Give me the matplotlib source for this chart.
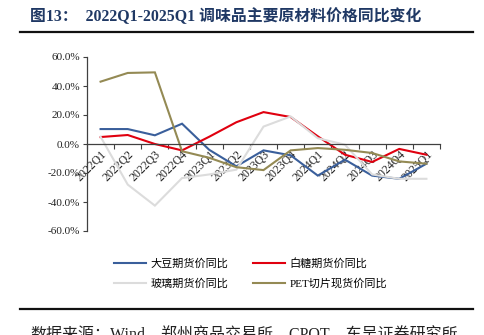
import matplotlib
matplotlib.use("Agg")
import matplotlib.pyplot as plt
from matplotlib.lines import Line2D
from matplotlib.ticker import FuncFormatter, FixedLocator

plt.rcParams['font.family'] = ['Liberation Serif', 'Noto Sans CJK SC', 'DejaVu Sans']

# ---------------------------------------------------------------------------
# Data (% YoY)
# ---------------------------------------------------------------------------
quarters = ["2022Q1", "2022Q2", "2022Q3", "2022Q4",
            "2023Q1", "2023Q2", "2023Q3", "2023Q4",
            "2024Q1", "2024Q2", "2024Q3", "2024Q4", "2025Q1"]
soybean = [10.3, 10.3, 6.0, 14.0, -4.0, -15.4, -4.4, -7.8, -21.8, -10.8, -21.8, -24.0, -13.6]
sugar = [4.8, 6.2, 0.0, -4.4, 5.0, 15.0, 22.0, 18.6, 5.3, -7.4, -12.4, -3.4, -7.4]
glass = [5.0, -28.0, -42.5, -23.5, -21.0, -17.7, 12.0, 19.0, 4.0, -0.5, -21.0, -24.0, -24.0]
pet = [43.0, 49.0, 49.4, -5.0, -9.5, -16.0, -18.0, -4.4, -2.8, -4.0, -6.2, -12.0, -13.6]

series_labels = ["大豆期货价同比", "白糖期货价同比", "玻璃期货价同比", "PET切片现货价同比"]
series_colors = ["#3A5F9B", "#E0000F", "#DCDCDC", "#948A54"]

title = "图13：  2022Q1-2025Q1 调味品主要原材料价格同比变化"
source = "数据来源：Wind，郑州商品交易所，CPOT，东吴证券研究所"

# ---------------------------------------------------------------------------
# Figure
# ---------------------------------------------------------------------------
W, H = 485, 335
fig = plt.figure(figsize=(W / 100, H / 100), dpi=100)
fig.patch.set_facecolor("white")

ax = fig.add_axes([87 / W, 1 - 231 / H, (440 - 87) / W, (231 - 57) / H])

x = list(range(len(quarters)))
handles = []
for vals, lab, col in zip([soybean, sugar, glass, pet], series_labels, series_colors):
    ln, = ax.plot(x, vals, color=col, lw=1.5, label=lab, solid_joinstyle="miter")
    handles.append(ln)

ax.set_xlim(-0.5, len(quarters) - 0.5)
ax.set_ylim(-60, 60)

axis_col = "#404040"
for s in ["top", "right"]:
    ax.spines[s].set_visible(False)
ax.spines["left"].set_color(axis_col)
ax.spines["left"].set_linewidth(0.9)
ax.spines["bottom"].set_position(("data", 0))
ax.spines["bottom"].set_color(axis_col)
ax.spines["bottom"].set_linewidth(0.9)

ax.set_yticks([-60, -40, -20, 0, 20, 40, 60])
ax.yaxis.set_major_formatter(FuncFormatter(lambda v, p: f"{v:.1f}%"))
ax.tick_params(axis="y", direction="out", length=3, width=0.8, color=axis_col,
               labelsize=8, pad=2, labelcolor="#222222")

ax.set_xticks(x)
ax.set_xticklabels(quarters, rotation=45, ha="right", va="top",
                   rotation_mode="anchor", fontsize=8.5, color="#222222")
ax.xaxis.set_minor_locator(FixedLocator([i - 0.5 for i in range(len(quarters) + 1)]))
ax.tick_params(axis="x", which="major", length=0, pad=3)
ax.tick_params(axis="x", which="minor", direction="out", length=3.5, width=0.8, color=axis_col)

# legend: row 1 = 大豆, 白糖 ; row 2 = 玻璃, PET
order = [0, 2, 1, 3]
fig.legend([handles[i] for i in order], [series_labels[i] for i in order],
           ncol=2, loc="upper left", bbox_to_anchor=(108 / W, 1 - 252 / H),
           frameon=False, fontsize=8, handlelength=2.9, handletextpad=0.4,
           columnspacing=2.2, labelspacing=0.9, borderpad=0)

# title, rules, source
fig.text(30 / W, 1 - 17 / H, title, fontsize=11.4, fontweight="bold",
         color="#1F3864", ha="left", va="center")
fig.add_artist(Line2D([20 / W, 473 / W], [1 - 32 / H, 1 - 32 / H],
                      color="#111111", lw=1.6))
fig.add_artist(Line2D([20 / W, 473 / W], [1 - 309 / H, 1 - 309 / H],
                      color="#111111", lw=1.6))
fig.text(30 / W, 1 - 328 / H, source, fontsize=11.5, color="#222222",
         ha="left", va="top")

fig.savefig("out.png", dpi=100, facecolor="white")
